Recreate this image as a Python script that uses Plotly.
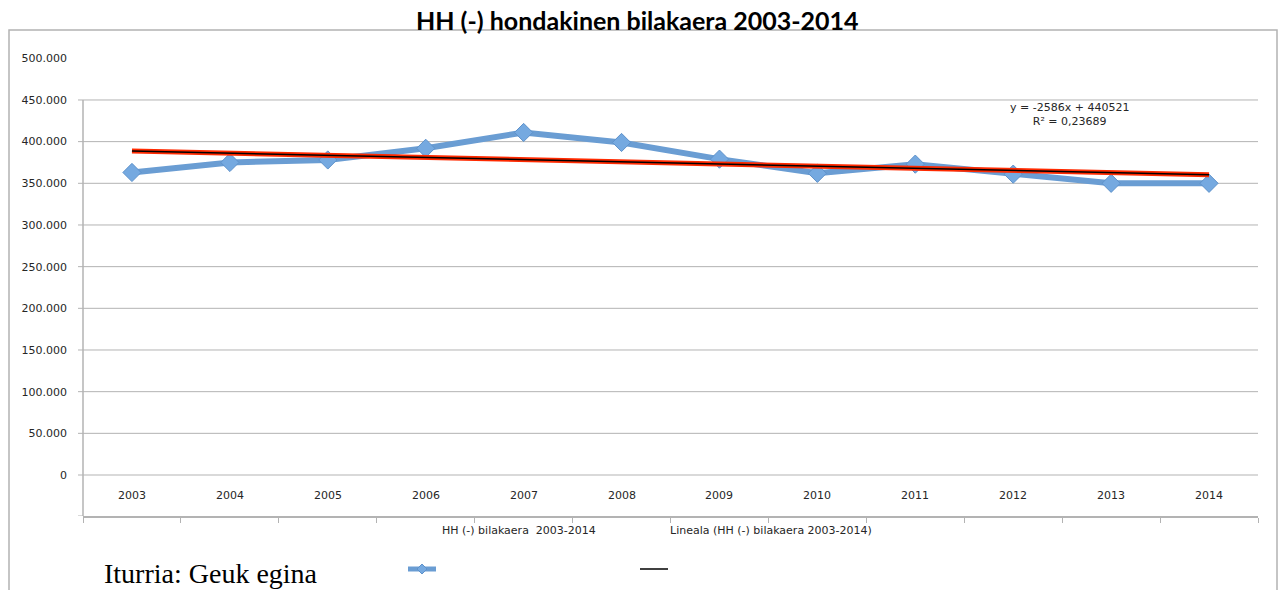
import plotly.graph_objects as go

# data
years = ["2003", "2004", "2005", "2006", "2007", "2008",
         "2009", "2010", "2011", "2012", "2013", "2014"]
waste = [363000, 375000, 378000, 392000, 411000, 399000,
         379000, 362000, 373000, 361000, 350000, 350000]
trend_years = ["2003", "2014"]
trend_values = [388800, 360200]
y_ticks = [0, 50000, 100000, 150000, 200000, 250000, 300000,
           350000, 400000, 450000, 500000]
grid_values = y_ticks[:-1]

title = "HH (-) hondakinen bilakaera 2003-2014"
series_name = "HH (-) bilakaera  2003-2014"
trend_name = "Lineala (HH (-) bilakaera 2003-2014)"
equation = "y = -2586x + 440521<br>R² = 0,23689"
source = "Iturria: Geuk egina"

W, H = 1281, 590
Y_MIN, Y_MAX = -49200, 500000


def px(x):
    return x / W


def py(y):
    return 1 - y / H


BLUE = "#6A9DD3"
GREY = "#B3B3B3"
TXT = "#262626"
FONT = "DejaVu Sans"

fig = go.Figure()

fig.add_trace(go.Scatter(
    x=years, y=waste, mode="lines+markers", name=series_name,
    line=dict(color=BLUE, width=6),
    marker=dict(symbol="diamond", size=14, color="#75A9E0",
                line=dict(color="#5E92CB", width=1)),
))
fig.add_trace(go.Scatter(
    x=trend_years, y=trend_values, mode="lines", showlegend=False,
    line=dict(color="#FF2A00", width=5),
))
fig.add_trace(go.Scatter(
    x=trend_years, y=trend_values, mode="lines", name=trend_name,
    line=dict(color="black", width=1.5),
))

x0, x1 = px(83), px(1258)
shapes = []
# gridlines (only up to 450.000 like the original)
for v in grid_values:
    shapes.append(dict(type="line", xref="paper", yref="y", x0=x0, x1=x1,
                       y0=v, y1=v, line=dict(color=GREY, width=1), layer="below"))
    shapes.append(dict(type="line", xref="paper", yref="y", x0=px(78), x1=x0,
                       y0=v, y1=v, line=dict(color=GREY, width=1)))
shapes.append(dict(type="line", xref="paper", yref="y", x0=px(78), x1=x0,
                   y0=Y_MIN, y1=Y_MIN, line=dict(color=GREY, width=1)))
# left axis line
shapes.append(dict(type="line", xref="paper", yref="y", x0=x0, x1=x0,
                   y0=Y_MIN, y1=grid_values[-1], line=dict(color=GREY, width=1.5)))
# outer chart border
shapes.append(dict(type="rect", xref="paper", yref="paper", x0=px(9), x1=px(1277),
                   y0=-0.05, y1=py(30), line=dict(color=GREY, width=1.5), layer="below"))
# legend symbols
shapes.append(dict(type="line", xref="paper", yref="paper", x0=px(408), x1=px(436),
                   y0=py(569), y1=py(569), line=dict(color=BLUE, width=5)))
shapes.append(dict(type="path", xref="paper", yref="paper",
                   path=f"M {px(422)},{py(564)} L {px(427)},{py(569)} L {px(422)},{py(574)} L {px(417)},{py(569)} Z",
                   fillcolor="#75A9E0", line=dict(color="#5E92CB", width=1)))
shapes.append(dict(type="line", xref="paper", yref="paper", x0=px(640), x1=px(668),
                   y0=py(569), y1=py(569), line=dict(color="black", width=1.5)))

annotations = []
for i, yr in enumerate(years):
    annotations.append(dict(x=i, y=-24600, xref="x", yref="y", text=yr,
                            yanchor="middle", showarrow=False,
                            font=dict(family=FONT, size=11, color=TXT)))
annotations += [
    dict(x=px(637), y=py(20), xref="paper", yref="paper", text=f"<b>{title}</b>",
         yanchor="middle", showarrow=False,
         font=dict(family="Lato", size=25, color="black")),
    dict(x=px(1131), y=py(114), xref="paper", yref="paper", text=equation,
         yanchor="middle", showarrow=False, align="center",
         font=dict(family=FONT, size=11, color=TXT)),
    dict(x=px(440), y=py(530), xref="paper", yref="paper", text=series_name,
         xanchor="left", yanchor="middle", showarrow=False,
         font=dict(family=FONT, size=11, color=TXT)),
    dict(x=px(668), y=py(530), xref="paper", yref="paper", text=trend_name,
         xanchor="left", yanchor="middle", showarrow=False,
         font=dict(family=FONT, size=11, color=TXT)),
    dict(x=px(102), y=py(573), xref="paper", yref="paper", text=source,
         xanchor="left", yanchor="middle", showarrow=False,
         font=dict(family="Liberation Serif", size=28, color="black")),
]

fig.update_layout(
    width=W, height=H,
    margin=dict(l=0, r=0, t=0, b=0, pad=0, autoexpand=False),
    plot_bgcolor="white", paper_bgcolor="white",
    showlegend=False,
    shapes=shapes, annotations=annotations,
    xaxis=dict(type="category", domain=[x0, x1], range=[-0.5, 11.5],
               showgrid=False, zeroline=False, showticklabels=False,
               showline=True, linecolor=GREY, linewidth=1.5, automargin=False,
               ticks="outside", tickson="boundaries", ticklen=5,
               tickcolor=GREY, tickwidth=1),
    yaxis=dict(domain=[py(516), py(58.3)], range=[Y_MIN, Y_MAX],
               showgrid=False, zeroline=False, showline=False, automargin=False,
               tickvals=y_ticks,
               ticktext=[f"{v:,}".replace(",", ".") for v in y_ticks],
               ticks="", ticklabelstandoff=15,
               tickfont=dict(family=FONT, size=11, color=TXT)),
)

pin_page = (
    "document.body.style.margin='0';document.body.style.padding='0';"
    "var g=document.getElementsByClassName('plotly-graph-div')[0];"
    "g.style.position='fixed';g.style.top='0px';g.style.left='0px';"
)
fig.write_html("out.html", config={"displayModeBar": False}, post_script=pin_page)
